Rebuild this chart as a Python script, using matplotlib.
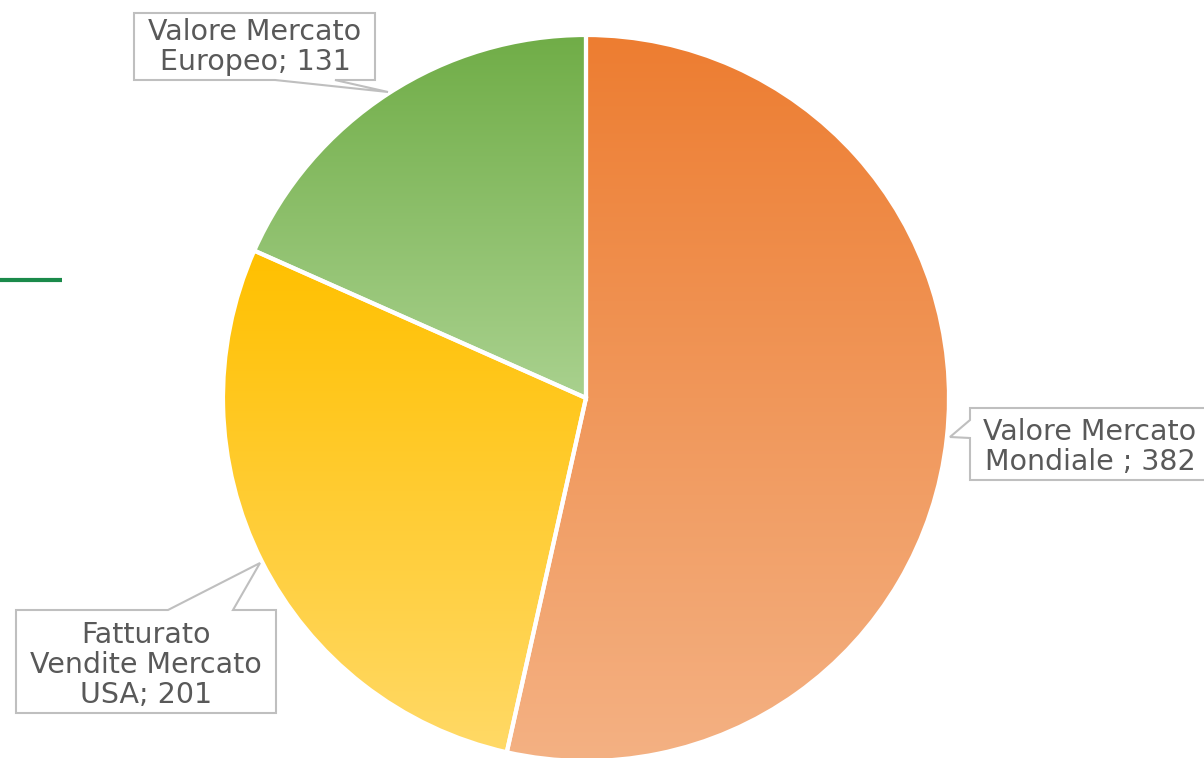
import numpy as np
import matplotlib
matplotlib.use("Agg")
import matplotlib.pyplot as plt
from matplotlib.patches import Polygon
from matplotlib.colors import to_rgb

# ---- data ----
categories = ["Valore Mercato\nMondiale", "Fatturato\nVendite Mercato\nUSA", "Valore Mercato\nEuropeo"]
values = [382, 201, 131]
sep = [" ; ", "; ", "; "]
top_colors = ["#ED7D31", "#FFC000", "#70AD47"]
bottom_colors = ["#F4B183", "#FFD966", "#A9D18E"]

W, H = 1204, 758
fig = plt.figure(figsize=(W / 100, H / 100), dpi=100)
ax = fig.add_axes([0, 0, 1, 1])

def Y(py):
    return H - py

cx, cy, R = 586, Y(398), 363
wedges, _ = ax.pie(values, startangle=90, counterclock=False, center=(cx, cy),
                   radius=R, frame=True,
                   wedgeprops=dict(edgecolor="white", linewidth=3))

for w, tc, bc in zip(wedges, top_colors, bottom_colors):
    ext = w.get_path().get_extents()
    n = 256
    t = np.linspace(0, 1, n)[:, None]
    c0 = np.array(to_rgb(tc)); c1 = np.array(to_rgb(bc))
    img = (c0[None, :] * (1 - t) + c1[None, :] * t)[:, None, :]  # top->bottom
    img = np.repeat(img, 2, axis=1)
    im = ax.imshow(img, extent=[ext.x0, ext.x1, ext.y0, ext.y1], origin="upper",
                   aspect="auto", zorder=2, interpolation="bilinear")
    im.set_clip_path(w)
    w.set_facecolor("none")
    w.set_zorder(3)

ax.set_xlim(0, W)
ax.set_ylim(0, H)
ax.set_aspect("equal")
ax.axis("off")

# green accent line
ax.plot([0, 62], [Y(280), Y(280)], color="#1A8A4A", lw=3, solid_capstyle="butt", zorder=1)

# callouts
callouts = [
    [(970, 408), (1212, 408), (1212, 480), (970, 480), (970, 438), (950, 437), (970, 420)],
    [(16, 610), (168, 610), (260, 563), (233, 610), (276, 610), (276, 713), (16, 713)],
    [(134, 13), (375, 13), (375, 80), (335, 80), (388, 92), (275, 80), (134, 80)],
]
text_pos = [(1090, 447), (146, 665), (255, 47)]

for i, (poly, (tx, ty)) in enumerate(zip(callouts, text_pos)):
    pts = [(x, Y(y)) for x, y in poly]
    ax.add_patch(Polygon(pts, closed=True, facecolor="white", edgecolor="#BFBFBF",
                         lw=1.5, zorder=4, clip_on=False))
    label = f"{categories[i]}{sep[i]}{values[i]}"
    ax.text(tx, Y(ty), label, ha="center", va="center", fontsize=20.5,
            family="DejaVu Sans", color="#595959",
            linespacing=1.1, zorder=5)

fig.savefig("out.png", dpi=100)
